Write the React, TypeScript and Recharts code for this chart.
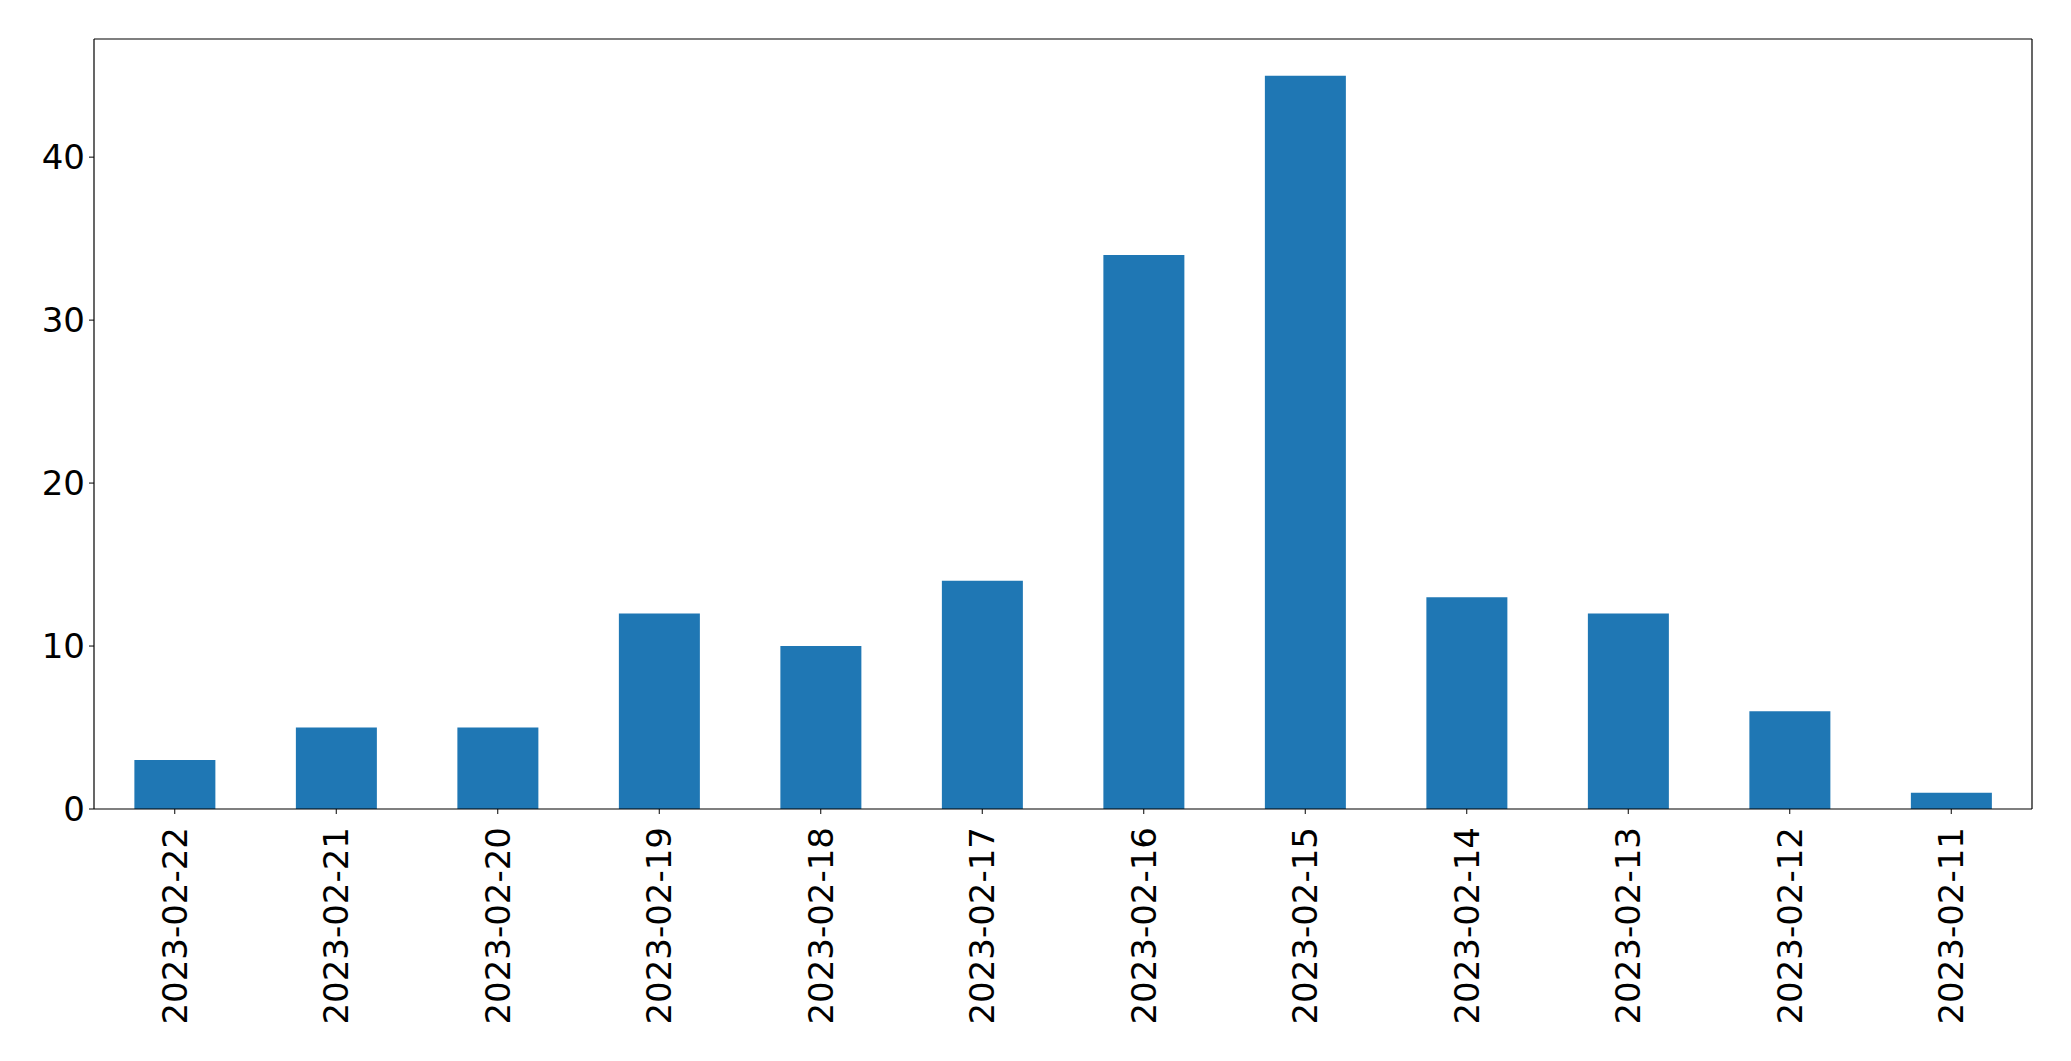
import { Bar, BarChart, XAxis, YAxis } from "recharts";

const fechas = [
  "2023-02-22",
  "2023-02-21",
  "2023-02-20",
  "2023-02-19",
  "2023-02-18",
  "2023-02-17",
  "2023-02-16",
  "2023-02-15",
  "2023-02-14",
  "2023-02-13",
  "2023-02-12",
  "2023-02-11",
];
const cantidades = [3, 5, 5, 12, 10, 14, 34, 45, 13, 12, 6, 1];
const ticksY = [0, 10, 20, 30, 40];

const datos = fechas.map((fecha, i) => ({ fecha, cantidad: cantidades[i] }));

const fuente = "'DejaVu Sans', sans-serif";

function EtiquetaFecha(props: any) {
  const { x, y, payload } = props;
  return (
    <g transform={`translate(${x},${y + 11})`}>
      <text
        transform="rotate(-90)"
        textAnchor="end"
        dy="0.35em"
        fill="#000"
        fontSize={34}
        fontFamily={fuente}
      >
        {payload.value}
      </text>
    </g>
  );
}

export default function App() {
  return (
    <div style={{ background: "#fff" }}>
      <BarChart
        width={2040}
        height={1040}
        data={datos}
        margin={{ top: 30, right: 15, bottom: 0, left: 0 }}
        barCategoryGap="25%"
      >
        <XAxis
          dataKey="fecha"
          interval={0}
          height={239}
          tick={<EtiquetaFecha />}
          tickSize={5}
          tickLine={{ stroke: "#000" }}
          axisLine={{ stroke: "#000", strokeWidth: 1.2 }}
        />
        <XAxis
          xAxisId="arriba"
          dataKey="fecha"
          orientation="top"
          height={1}
          tick={false}
          tickLine={false}
          axisLine={{ stroke: "#000", strokeWidth: 1.2 }}
        />
        <YAxis
          width={86}
          domain={[0, 47.25]}
          ticks={ticksY}
          tickSize={5}
          tickMargin={4}
          tickLine={{ stroke: "#000" }}
          axisLine={{ stroke: "#000", strokeWidth: 1.2 }}
          tick={{ fill: "#000", fontSize: 34, fontFamily: fuente }}
        />
        <YAxis
          yAxisId="derecha"
          orientation="right"
          width={1}
          domain={[0, 47.25]}
          tick={false}
          tickLine={false}
          axisLine={{ stroke: "#000", strokeWidth: 1.2 }}
        />
        <Bar dataKey="cantidad" fill="#1f77b4" isAnimationActive={false} />
      </BarChart>
    </div>
  );
}
